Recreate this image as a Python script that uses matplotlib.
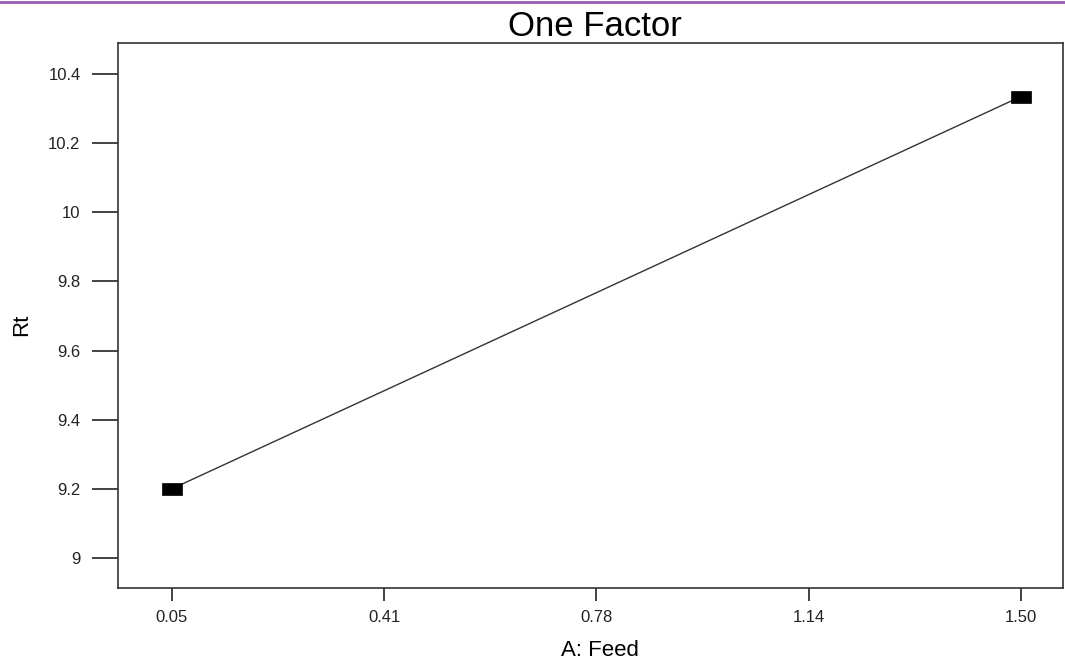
import matplotlib
matplotlib.use("Agg")
import matplotlib.pyplot as plt
from matplotlib.lines import Line2D

plt.rcParams['font.family'] = ['Liberation Sans', 'DejaVu Sans']

feed = [0.05, 1.50]
rt = [9.20, 10.335]
xticks = [0.05, 0.4125, 0.775, 1.1375, 1.50]
xtick_labels = ["0.05", "0.41", "0.78", "1.14", "1.50"]
yticks = [9.0, 9.2, 9.4, 9.6, 9.8, 10.0, 10.2, 10.4]
ytick_labels = ["9", "9.2", "9.4", "9.6", "9.8", "10", "10.2", "10.4"]

fig = plt.figure(figsize=(10.65, 6.64), dpi=100)
ax = fig.add_axes([118/1065, 1-588/664, (1063-118)/1065, (588-43)/664])

rect = [(-1, -0.55), (1, -0.55), (1, 0.55), (-1, 0.55), (-1, -0.55)]
ax.plot(feed, rt, color='#333333', lw=1.0, marker=rect, markersize=14.5,
        markerfacecolor='black', markeredgecolor='black', markeredgewidth=0.5)

ax.set_xlim(-0.042, 1.572)
ax.set_ylim(8.913, 10.49)
ax.set_xticks(xticks)
ax.set_xticklabels(xtick_labels)
ax.set_yticks(yticks)
ax.set_yticklabels(ytick_labels)
ax.tick_params(axis='y', direction='out', length=19, width=1.2, labelsize=12, colors='#222222', pad=8)
ax.tick_params(axis='x', direction='out', length=9.5, width=1.2, labelsize=12, colors='#222222', pad=6)
for s in ax.spines.values():
    s.set_linewidth(1.2)
    s.set_color('#333333')

ax.set_xlabel("A: Feed", fontsize=16)
ax.xaxis.set_label_coords((600-118)/945, -(640-588)/545)
ax.set_ylabel("Rt", fontsize=16)
ax.yaxis.set_label_coords((32-118)/945, (588-325)/545)
ax.set_title("One Factor", fontsize=25, pad=4, x=(595-118)/945)

fig.add_artist(Line2D([0, 1], [1-2/664, 1-2/664], color='#9b59b6', lw=2, transform=fig.transFigure))

fig.savefig("out.png", dpi=100)
